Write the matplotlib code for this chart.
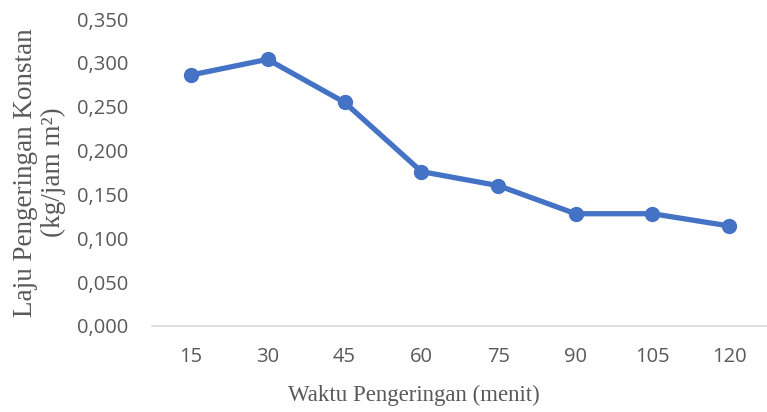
import matplotlib
matplotlib.use("Agg")
import matplotlib.pyplot as plt
from matplotlib.ticker import FuncFormatter, MultipleLocator

categories = ["15", "30", "45", "60", "75", "90", "105", "120"]
values = [0.286, 0.304, 0.255, 0.176, 0.160, 0.128, 0.128, 0.114]

fig = plt.figure(figsize=(7.67, 4.12), dpi=100)
ax = fig.add_axes([152/767, 1-326/412, 616/767, (326-19)/412])

x = list(range(len(categories)))
ax.plot(x, values, color="#4472C4", linewidth=3.8, marker="o", markersize=10,
        solid_capstyle="round", solid_joinstyle="round")

ax.set_xlim(-0.5, len(categories) - 0.5)
ax.set_ylim(0, 0.35)
ax.yaxis.set_major_locator(MultipleLocator(0.05))
ax.yaxis.set_major_formatter(FuncFormatter(lambda v, p: f"{v:.3f}".replace(".", ",")))
ax.set_xticks(x)
ax.set_xticklabels(categories)

for s in ["top", "right", "left"]:
    ax.spines[s].set_visible(False)
ax.spines["bottom"].set_color("#D9D9D9")
ax.spines["bottom"].set_linewidth(1.2)
ax.tick_params(axis="both", length=0, colors="#595959", labelsize=14.5)
ax.tick_params(axis="y", pad=17)
ax.tick_params(axis="x", pad=15)
for lbl in ax.get_xticklabels() + ax.get_yticklabels():
    lbl.set_fontfamily("Open Sans")

ax.set_xlabel("Waktu Pengeringan (menit)", fontfamily="Liberation Serif",
              fontsize=16.5, color="#595959", labelpad=14)
ax.xaxis.set_label_coords((414 - 152) / 616, -0.19)
ax.set_ylabel("Laju Pengeringan Konstan\n(kg/jam m²)", fontfamily="Liberation Serif",
              fontsize=19.5, color="#595959", labelpad=8, linespacing=1.15)

fig.savefig("out.png", dpi=100)
